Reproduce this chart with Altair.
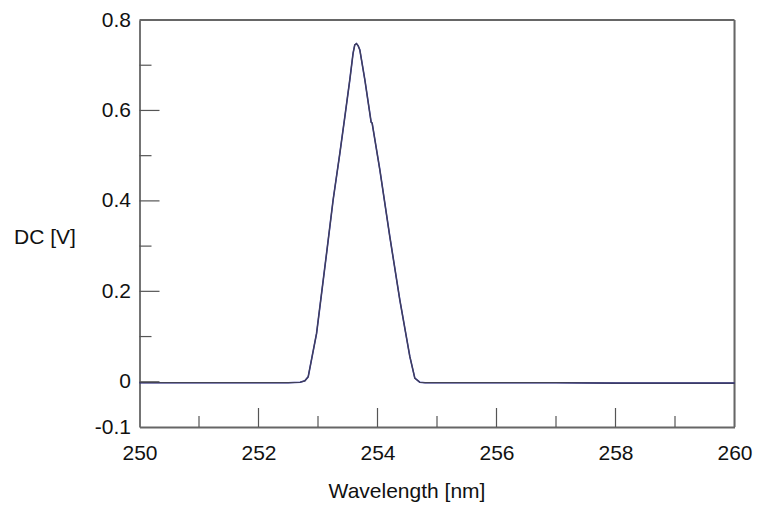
import altair as alt
import pandas as pd

# Spectrum trace (wavelength in nm, DC in V)
wavelength = [250.0, 251.0, 252.0, 252.5, 252.7, 252.779, 252.835, 252.976, 253.144,
              253.254, 253.367, 253.451, 253.535, 253.59, 253.618, 253.647, 253.675,
              253.703, 253.787, 253.893, 253.91, 254.039, 254.207, 254.375, 254.543,
              254.627, 254.71, 254.8, 255.0, 256.0, 257.0, 258.0, 259.0, 260.0]
dc_volts = [-0.002, -0.002, -0.002, -0.002, -0.001, 0.002, 0.011, 0.107, 0.284,
            0.402, 0.505, 0.586, 0.668, 0.727, 0.745, 0.748, 0.743,
            0.734, 0.668, 0.574, 0.572, 0.469, 0.321, 0.181, 0.056,
            0.008, -0.001, -0.002, -0.002, -0.002, -0.002, -0.003, -0.003, -0.003]

x_labels = [250, 252, 254, 256, 258, 260]
y_labels = [-0.1, 0, 0.2, 0.4, 0.6, 0.8]
x_major = [252, 254, 256, 258]
x_minor = [251, 253, 255, 257, 259]
y_major = [0, 0.2, 0.4, 0.6]
y_minor = [0.1, 0.3, 0.5, 0.7]

W, H = 595, 407
FONT = "Liberation Sans"
FS = 21

df = pd.DataFrame({"wl": wavelength, "dc": dc_volts})

xscale = alt.Scale(domain=[250, 260], nice=False, zero=False)
yscale = alt.Scale(domain=[-0.1, 0.8], nice=False, zero=False)

xaxis = alt.Axis(values=x_labels, ticks=False, grid=False, labelFontSize=FS,
                 labelFont=FONT, labelColor="#111", labelPadding=15,
                 domainColor="#666", domainWidth=1.8, title="Wavelength [nm]",
                 titleFont=FONT, titleFontSize=FS, titleFontWeight="normal",
                 titleColor="#111", titleX=267, titleY=70, titleBaseline="alphabetic",
                 titleAlign="center",
                 labelFlush=False, labelOverlap=False)
yaxis = alt.Axis(values=y_labels, ticks=False, grid=False, labelFontSize=FS,
                 labelFont=FONT, labelColor="#111", labelPadding=9,
                 labelExpr="datum.value == 0 ? '0' : (datum.value < 0 ? '-' + format(-datum.value, '.1f') : format(datum.value, '.1f'))",
                 domainColor="#666", domainWidth=1.8, title="DC [V]",
                 titleFont=FONT, titleFontSize=FS, titleFontWeight="normal",
                 titleColor="#111", titleAngle=0, titleX=-95, titleY=217,
                 titleAlign="center", titleBaseline="middle",
                 labelFlush=False, labelOverlap=False)

base = alt.Chart(df)
line_blue = base.mark_line(color="#2a2aa0", strokeWidth=1.6).encode(
    x=alt.X("wl:Q", scale=xscale, axis=xaxis),
    y=alt.Y("dc:Q", scale=yscale, axis=yaxis),
)
line_grey = base.mark_line(color="#45454c", strokeWidth=1.2, opacity=0.9).encode(
    x=alt.X("wl:Q", scale=xscale, axis=xaxis),
    y=alt.Y("dc:Q", scale=yscale, axis=yaxis),
)

tick_color = "#555"
xmaj = alt.Chart(pd.DataFrame({"wl": x_major})).mark_rule(color=tick_color, strokeWidth=1.2).encode(
    x=alt.X("wl:Q", scale=xscale, axis=xaxis), y=alt.value(H), y2=alt.value(H - 19))
xmin = alt.Chart(pd.DataFrame({"wl": x_minor})).mark_rule(color=tick_color, strokeWidth=1.2).encode(
    x=alt.X("wl:Q", scale=xscale, axis=xaxis), y=alt.value(H), y2=alt.value(H - 11))
ymaj = alt.Chart(pd.DataFrame({"dc": y_major})).mark_rule(color=tick_color, strokeWidth=1.2).encode(
    y=alt.Y("dc:Q", scale=yscale, axis=yaxis), x=alt.value(0), x2=alt.value(20))
ymin = alt.Chart(pd.DataFrame({"dc": y_minor})).mark_rule(color=tick_color, strokeWidth=1.2).encode(
    y=alt.Y("dc:Q", scale=yscale, axis=yaxis), x=alt.value(0), x2=alt.value(12))

# frame: top and right border lines of the plot box
frame_top = alt.Chart(pd.DataFrame({"k": [0]})).mark_rule(color="#666", strokeWidth=2).encode(
    x=alt.value(0), x2=alt.value(W), y=alt.value(0))
frame_right = alt.Chart(pd.DataFrame({"k": [0]})).mark_rule(color="#666", strokeWidth=2).encode(
    x=alt.value(W), y=alt.value(0), y2=alt.value(H))

chart = alt.layer(xmaj, xmin, ymaj, ymin, frame_top, frame_right, line_blue, line_grey).properties(
    width=W, height=H,
    autosize=alt.AutoSizeParams(type="none"),
    padding={"left": 131.5, "top": 12, "right": 25, "bottom": 80},
).configure_view(stroke=None).configure(background="white")

chart.save("out.html", embed_options={"renderer": "svg", "actions": False})
